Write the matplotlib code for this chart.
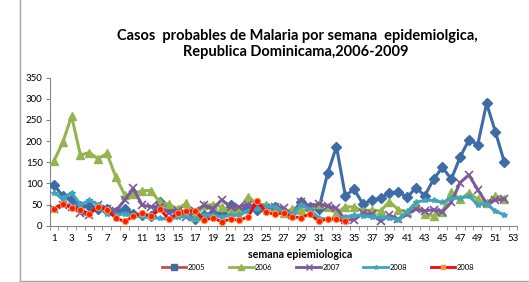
import matplotlib
matplotlib.use("Agg")
import matplotlib.pyplot as plt
from matplotlib.lines import Line2D
import numpy as np

plt.rcParams['font.family'] = ['Lato', 'DejaVu Sans']

weeks = list(range(1, 53))
tick_labels = [str(i) for i in range(1, 54, 2)]

s2005 = [97, 70, 63, 47, 46, 40, 40, 33, 40, 28,
         25, 22, 57, 40, 35, 30, 15, 25, 30, 30,
         48, 35, 45, 38, 45, 45, 33, 33, 55, 45,
         40, 124, 187, 71, 86, 51, 61, 65, 78, 80,
         67, 90, 71, 110, 138, 110, 162, 203, 192, 289,
         222, 151]
s2006 = [153, 197, 259, 167, 173, 158, 171, 116, 73, 75,
         83, 83, 55, 51, 40, 53, 21, 48, 50, 45,
         33, 40, 69, 50, 49, 40, 30, 40, 38, 35,
         51, 45, 30, 45, 44, 35, 37, 35, 57, 38,
         33, 48, 28, 23, 33, 80, 62, 78, 62, 53,
         70, 63]
s2007 = [40, 50, 45, 30, 25, 48, 40, 35, 60, 88,
         48, 45, 45, 30, 35, 20, 35, 48, 40, 61,
         45, 45, 50, 45, 42, 45, 42, 26, 57, 45,
         52, 46, 41, 14, 14, 29, 27, 11, 25, 15,
         28, 39, 35, 38, 33, 55, 102, 120, 85, 53,
         60, 63]
s2008 = [78, 65, 78, 50, 60, 50, 28, 25, 28, 22,
         22, 18, 18, 15, 20, 22, 15, 25, 25, 20,
         25, 25, 35, 40, 45, 45, 33, 28, 49, 38,
         18, 15, 17, 21, 25, 24, 21, 20, 18, 14,
         33, 55, 60, 60, 55, 65, 65, 70, 50, 52,
         34, 26]
s2009 = [40, 52, 42, 38, 28, 45, 38, 18, 10, 22,
         30, 22, 39, 16, 29, 35, 35, 13, 19, 9,
         16, 13, 21, 59, 32, 27, 30, 21, 19, 28,
         10, 16, 15, 10]

series_labels = ['2005', '2006', '2007', '2008', '2008']

W, H = 529, 282
fig = plt.figure(figsize=(W / 100, H / 100), dpi=100)
ax = fig.add_axes([49.5 / W, (H - 225.7) / H, 468 / W, 148 / H])

c05 = '#3E6CA6'
c06 = '#94B44F'
c07 = '#7A5A9B'
c08 = '#40A4BE'
c09 = '#FF0000'

ax.plot(weeks, s2005, color=c05, lw=2.2, marker='D', ms=5, mfc=c05, mec=c05, zorder=3)
ax.plot(weeks, s2006, color=c06, lw=2.2, marker='^', ms=6, mfc=c06, mec=c06, zorder=3)
ax.plot(weeks, s2007, color=c07, lw=2.2, marker='x', ms=6, mew=1.2, mec=c07, zorder=3)
ax.plot(weeks, s2008, color=c08, lw=2.2, marker='*', ms=4, mfc=c08, mec=c08, zorder=3)
ax.plot(weeks[:len(s2009)], s2009, color=c09, lw=2.0, marker='o', ms=4.5,
        mfc='#FF1A00', mec='#F79646', mew=0.8, zorder=4)

ax.set_xlim(0.5, 53.5)
ax.set_ylim(0, 350)
ax.set_yticks(np.arange(0, 351, 50))
ax.set_xticks(range(1, 54, 2))
ax.set_xticklabels(tick_labels)
ax.set_xticks(np.arange(0.5, 54, 1), minor=True)
ax.tick_params(axis='x', which='major', length=0, labelsize=7, pad=6, colors='black')
ax.tick_params(axis='x', which='minor', length=3, color='#868686', direction='out')
ax.tick_params(axis='y', which='major', length=3, color='#868686', labelsize=7, pad=2)
for s in ['top', 'right']:
    ax.spines[s].set_visible(False)
for s in ['left', 'bottom']:
    ax.spines[s].set_color('#868686')
    ax.spines[s].set_linewidth(0.8)

ax.set_xlabel('semana epiemiologica', fontsize=7.7, fontweight='bold')
ax.xaxis.set_label_coords((300 - 49.5) / 468, -(255 - 225.7) / 148)
ax.xaxis.label.set_va('center')

fig.text(297 / W, 1 - 36 / H, 'Casos  probables de Malaria por semana  epidemiolgica,',
         ha='center', va='center', fontsize=10.5, fontweight='bold')
fig.text(296 / W, 1 - 52 / H, 'Republica Dominicama,2006-2009',
         ha='center', va='center', fontsize=10.5, fontweight='bold')

handles = [
    Line2D([], [], color='#C0504D', lw=2, marker='s', ms=4, mfc=c05, mec=c05),
    Line2D([], [], color=c06, lw=2, marker='^', ms=4, mfc=c06, mec=c06),
    Line2D([], [], color=c07, lw=2, marker='x', ms=4, mec=c07),
    Line2D([], [], color=c08, lw=2, marker='*', ms=3, mfc=c08, mec=c08),
    Line2D([], [], color=c09, lw=2, marker='s', ms=3.5, mfc='#F79646', mec='#F79646'),
]
fig.legend(handles, series_labels, loc='center', bbox_to_anchor=(318 / W, 1 - 267 / H),
           ncol=5, frameon=False, fontsize=5.5, handlelength=3.2, handletextpad=0.2,
           columnspacing=3.1)

# chart-area border (left and bottom visible)
fig.add_artist(Line2D([20 / W, 20 / W], [0, 1], transform=fig.transFigure,
                      color='#A6A6A6', lw=1))
fig.add_artist(Line2D([20 / W, 1], [1.5 / H, 1.5 / H], transform=fig.transFigure,
                      color='#A6A6A6', lw=1))

fig.savefig('out.png', dpi=100)
